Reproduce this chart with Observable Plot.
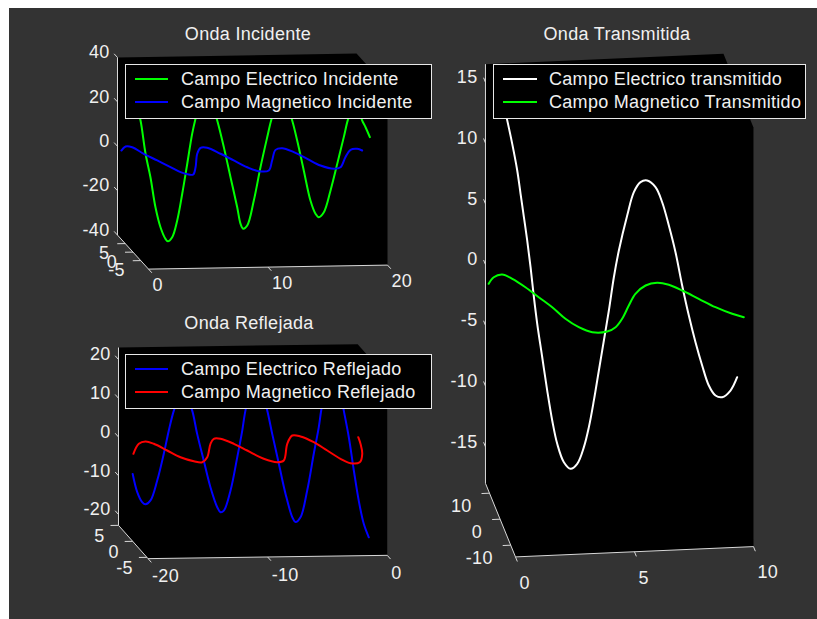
<!DOCTYPE html>
<html>
<head>
<meta charset="utf-8">
<script src="https://cdn.jsdelivr.net/npm/d3@7"></script>
<script src="https://cdn.jsdelivr.net/npm/@observablehq/plot@0.6"></script>
<style>
  html, body { margin: 0; padding: 0; background: #ffffff; }
  #figure { position: relative; width: 817px; height: 619px; overflow: hidden;
    font-family: "Liberation Sans", Arial, Helvetica, sans-serif; font-size: 18px;
    letter-spacing: 0.3px; color: #f0f0f0; }
  #backdrop { position: absolute; left: 9px; top: 8px; width: 808px; height: 611px; background: #333333; }
  .layer { position: absolute; left: 0; top: 0; }
  .title { position: absolute; white-space: nowrap; transform: translate(-50%, -50%); }
  .legend { position: absolute; background: #000000; border: 1px solid #e8e8e8; box-sizing: border-box; }
  .legend .item { position: absolute; left: 0; right: 0; height: 24px; }
  .legend .swatch { position: absolute; height: 2px; top: 11px; }
  .legend .label { position: absolute; top: 0; line-height: 24px; white-space: nowrap; }
</style>
</head>
<body>
<div id="figure"><div id="backdrop"></div></div>
<script>
// ---------- Onda Incidente ----------
const incEX = [0, 0.3, 0.63, 1.05, 1.46, 1.88, 2.30, 2.72, 2.91, 3.28, 3.70, 4.12, 4.54, 4.95, 5.23,
  5.6, 6.1, 6.6, 7.05, 7.60, 8.16, 8.72, 9.00, 9.22, 9.56, 10.11, 10.67, 11.23, 11.56, 11.95,
  12.44, 12.9, 13.32, 13.74, 14.29, 14.85, 15.27, 15.55, 15.97, 16.53, 17.09, 17.64, 17.97, 18.3,
  18.58, 18.9, 19.18, 19.46, 19.82];
const incE = [30, 26, 19.2, 4.2, -6.4, -20.0, -29.0, -34.3, -35.4, -33.6, -26.1, -14.1, -0.6, 12.8, 19.6,
  27, 30, 26.5, 18.6, 6.6, -7.0, -20.6, -28.1, -30.3, -28.9, -17.7, -2.7, 10.7, 18.2, 24.5,
  27, 24.5, 18.1, 9.0, -4.5, -18.1, -24.1, -25.7, -23.5, -13.7, -1.8, 10.2, 17.7, 22.5,
  24, 22, 17.5, 14.5, 10.0];
const incHX = [0, 0.65, 1.14, 1.60, 2.21, 2.80, 3.25, 3.76, 4.12, 4.86, 6.01, 6.73, 7.28, 7.93, 8.52,
  9.12, 9.78, 10.65, 11.68, 12.76, 13.43, 14.09, 14.70, 15.29, 16.14, 16.81, 17.97, 18.94, 19.57, 19.85];
const incH = [7.5, 9.8, 9.3, 5.4, 1.4, -2.6, -5.6, -7.0, -7.1, -2.9, 4.9, 8.3, 8.3, 4.7, 0.7,
  -3.4, -5.8, -5.5, 0.3, 6.4, 7.3, 4.9, 0.9, -3.1, -5.1, -4.3, 1.5, 5.7, 6.2, 5.2];
const incXTicks = [0, 10, 20];
const incZTicks = [-40, -20, 0, 20, 40];
const incDTicks = [-5, 0, 5];
const incLabels = ["Campo Electrico Incidente", "Campo Magnetico Incidente"];

// ---------- Onda Reflejada ----------
const refEX = [-20, -19.62, -19.21, -18.93, -18.51, -17.95, -17.40, -16.98, -16.56, -16.2, -15.8, -15.4,
  -15.03, -14.61, -14.06, -13.50, -12.93, -12.66, -12.38, -11.82, -11.26, -10.84, -10.57, -10.15,
  -9.66, -9.2, -8.75, -8.34, -7.78, -7.22, -6.66, -6.39, -5.97, -5.41, -4.86, -4.44, -4.24, -3.8,
  -3.3, -2.8, -2.35, -1.93, -1.51, -1.10, -0.68, -0.26];
const refE = [-5.4, -10.1, -12.7, -13.3, -12.3, -7.2, -0.3, 5.7, 10.8, 13.5, 14.5, 13.5,
  10.8, 4.7, -2.2, -9.1, -14.3, -15.6, -15.2, -10.0, -1.5, 5.4, 10.6, 15.5,
  17, 15.5, 10.5, 4.5, -3.3, -11.1, -17.1, -18.4, -17.2, -10.3, -0.85, 6.0, 10.3, 17.5,
  20, 17.5, 10.2, 3.3, -5.3, -13.1, -19.1, -22.6];
const refHX = [-20, -18.82, -18.10, -17.58, -16.97, -16.36, -15.55, -14.93, -14.15, -12.90, -12.26, -11.71,
  -10.97, -10.36, -9.60, -8.74, -8.07, -6.56, -5.54, -4.93, -4.25, -3.75, -3.26, -2.76, -1.92, -1.10, -0.51, -0.21];
const refH = [-0.25, 2.81, 3.50, 2.75, 0.63, -1.50, -2.79, -3.14, -1.61, 2.51, 4.04, 4.01,
  2.41, 0.28, -2.35, -3.46, -2.96, 2.18, 4.72, 4.38, 2.56, -0.06, -2.68, -4.08, -3.81, -1.23, 1.87, 3.92];
const refXTicks = [-20, -10, 0];
const refZTicks = [-20, -10, 0, 10, 20];
const refDTicks = [-5, 0, 5];
const refLabels = ["Campo Electrico Reflejado", "Campo Magnetico Reflejado"];

// ---------- Onda Transmitida ----------
const traEX = [0, 0.15, 0.30, 0.51, 0.72, 0.86, 1.00, 1.14, 1.28, 1.42, 1.56, 1.77, 1.98, 2.19, 2.40,
  2.68, 2.96, 3.24, 3.52, 3.73, 3.94, 4.15, 4.36, 4.57, 4.78, 4.99, 5.34, 5.62, 5.90, 6.18,
  6.53, 6.81, 7.09, 7.37, 7.65, 7.93, 8.21, 8.49, 8.77, 9.05, 9.33, 9.68, 9.96];
const traE = [17.2, 16.1, 14.8, 12.85, 10.64, 8.71, 6.77, 4.84, 2.63, 0.15, -2.05, -4.82, -7.58, -10.06, -12.0,
  -13.54, -14.1, -13.72, -12.37, -10.74, -8.56, -6.11, -3.66, -1.21, 1.51, 3.69, 6.54, 8.44, 9.24, 9.35,
  8.77, 7.51, 5.57, 3.35, 0.59, -1.91, -4.13, -6.07, -7.74, -8.59, -8.75, -8.23, -7.16];
const traHX = [-0.19, 0.13, 0.52, 0.87, 1.27, 1.65, 2.04, 2.39, 2.80, 3.27, 3.90, 4.32, 4.73, 5.23,
  5.70, 6.26, 6.78, 7.23, 7.69, 8.23, 8.78, 9.36, 9.78];
const traH = [6.5, 8.91, 9.79, 8.0, 4.61, 0.62, -3.38, -7.98, -11.38, -13.49, -13.47, -11.98, -8.91, -4.0,
  0.32, 3.29, 4.12, 3.17, 0.8, -2.61, -6.05, -8.82, -10.3];
const traXTicks = [0, 5, 10];
const traZTicks = [-15, -10, -5, 0, 5, 10, 15];
const traDTicks = [-10, 0, 10];
const traLabels = ["Campo Electrico transmitido", "Campo Magnetico Transmitido"];

const green = "#00ff00", blue = "#0000ff", red = "#ff0000", white = "#ffffff";
const axisColor = "#d8d8d8", textColor = "#f0f0f0";
const fontFamily = '"Liberation Sans", Arial, Helvetica, sans-serif';

// Each panel is a 3D axes seen from slightly above and to the left:
// x runs along the front, d (depth) recedes up-left, z is vertical.
const panels = [
  {
    title: "Onda Incidente", titleAt: [248, 34],
    xDomain: [0, 20], zDomain: [-40, 40], dDomain: [-10, 10],
    xTicks: incXTicks, zTicks: incZTicks, dTicks: incDTicks,
    view: { origin: [132.5, 162.8], ax: 11.95, ay: -0.2, bx: -1.55, by: -1.7, cz: -2.22 },
    xLabel: { dx: 4, dy: 16.5 }, dLabel: { dx: -16, dy: 10 },
    curves: [
      { x: incEX, z: incE, color: green },   // electric field oscillates vertically
      { x: incHX, d: incH, color: blue }     // magnetic field oscillates in depth
    ],
    legend: { left: 125, top: 64, width: 307, height: 55, swatch: [9, 33], text: 55,
      items: [[incLabels[0], green], [incLabels[1], blue]] }
  },
  {
    title: "Onda Reflejada", titleAt: [249, 323],
    xDomain: [-20, 0], zDomain: [-22.8, 23.1], dDomain: [-5.4, 5],
    xTicks: refXTicks, zTicks: refZTicks, dTicks: refDTicks,
    view: { origin: [371.4, 449.2], ax: 11.96, ay: -0.165, bx: -2.84, by: -3.2, cz: -3.875 },
    xLabel: { dx: 4, dy: 18 }, dLabel: { dx: -14, dy: 11 },
    curves: [
      { x: refEX, z: refE, color: blue },
      { x: refHX, d: refH, color: red }
    ],
    legend: { left: 125, top: 354, width: 307, height: 55, swatch: [9, 33], text: 55,
      items: [[refLabels[0], blue], [refLabels[1], red]] }
  },
  {
    title: "Onda Transmitida", titleAt: [617, 34],
    xDomain: [0, 10], zDomain: [-18, 16.5], dDomain: [-14.5, 13.8],
    xTicks: traXTicks, zTicks: traZTicks, dTicks: traDTicks,
    view: { origin: [499.6, 300], ax: 23.8, ay: -1.03, bx: -1.06, by: -2.6, cz: -12.15 },
    xLabel: { dx: 4, dy: 26 }, dLabel: { dx: -18, dy: 13 },
    curves: [
      { x: traEX, z: traE, color: white },
      { x: traHX, d: traH, color: green }
    ],
    legend: { left: 493, top: 64, width: 313, height: 55, swatch: [9, 34], text: 55,
      items: [[traLabels[0], white], [traLabels[1], green]] }
  }
];

const figure = document.getElementById("figure");

function drawPanel(p) {
  const { origin: [ox, oy], ax, ay, bx, by, cz } = p.view;
  const [x0, x1] = p.xDomain, [z0, z1] = p.zDomain, [d0, d1] = p.dDomain;
  // fold depth into the x / z scales
  const X = (q) => q.x + q.d * bx / ax;
  const Y = (q) => q.z + (ay * q.x + by * q.d) / cz;
  const pt = (x, d, z) => ({ x, d, z });
  const depthPx = Math.hypot(bx, by);
  const tickD = 5 / depthPx;
  const tickX = 8 / ax;

  // silhouette of the back walls and floor
  const box = [pt(x0, d1, z1), pt(x1, d1, z1), pt(x1, d0, z1), pt(x1, d0, z0), pt(x0, d0, z0), pt(x0, d1, z0)];
  const edges = [
    [pt(x0, d1, z0), pt(x0, d1, z1)],
    [pt(x0, d1, z0), pt(x0, d0, z0)],
    [pt(x0, d0, z0), pt(x1, d0, z0)]
  ];
  const ticks = [
    ...p.xTicks.map(t => [pt(t, d0, z0), pt(t, d0 - tickD, z0)]),
    ...p.zTicks.map(t => [pt(x0, d1, t), pt(x0, d1 + tickD, t)]),
    ...p.dTicks.map(t => [pt(x0, t, z0), pt(x0 - tickX, t, z0)])
  ];
  const segs = (data) => Plot.link(data, {
    x1: s => X(s[0]), y1: s => Y(s[0]), x2: s => X(s[1]), y2: s => Y(s[1]),
    stroke: axisColor, strokeWidth: 1
  });

  const xLab = p.xTicks.map(t => ({ ...pt(t, d0, z0), t }));
  const zLab = p.zTicks.map(t => ({ ...pt(x0, d1, t), t }));
  const dLab = p.dTicks.map(t => ({ ...pt(x0, t, z0), t }));

  const curveMarks = p.curves.map(c => Plot.line(
    c.x.map((x, i) => pt(x, c.d ? c.d[i] : 0, c.z ? c.z[i] : 0)),
    { x: X, y: Y, stroke: c.color, strokeWidth: 2, curve: "catmull-rom", strokeLinejoin: "round" }
  ));

  const svg = Plot.plot({
    width: 817, height: 619, margin: 0,
    x: { type: "linear", domain: [x0, x1], range: [ox + ax * x0, ox + ax * x1], axis: null },
    y: { type: "linear", domain: [z0, z1], range: [oy + cz * z0, oy + cz * z1], axis: null },
    style: { background: "transparent", fontFamily, fontSize: "18px", letterSpacing: "0.3px", overflow: "visible" },
    marks: [
      Plot.line(box, { x: X, y: Y, fill: "#000000", stroke: "none" }),
      segs(edges),
      segs(ticks),
      Plot.text(xLab, { x: X, y: Y, text: q => String(q.t), textAnchor: "start", dx: p.xLabel.dx, dy: p.xLabel.dy, fill: textColor }),
      Plot.text(zLab, { x: X, y: Y, text: q => String(q.t), textAnchor: "end", dx: -8, dy: -5, fill: textColor }),
      Plot.text(dLab, { x: X, y: Y, text: q => String(q.t), textAnchor: "end", dx: p.dLabel.dx, dy: p.dLabel.dy, fill: textColor }),
      ...curveMarks
    ]
  });
  svg.classList.add("layer");
  figure.appendChild(svg);

  const title = document.createElement("div");
  title.className = "title";
  title.textContent = p.title;
  title.style.left = p.titleAt[0] + "px";
  title.style.top = p.titleAt[1] + "px";
  figure.appendChild(title);

  const L = p.legend;
  const box2 = document.createElement("div");
  box2.className = "legend";
  Object.assign(box2.style, { left: L.left + "px", top: L.top + "px", width: L.width + "px", height: L.height + "px" });
  L.items.forEach(([label, color], i) => {
    const item = document.createElement("div");
    item.className = "item";
    item.style.top = (2 + i * 23) + "px";
    const sw = document.createElement("div");
    sw.className = "swatch";
    Object.assign(sw.style, { left: L.swatch[0] + "px", width: L.swatch[1] + "px", background: color });
    const tx = document.createElement("div");
    tx.className = "label";
    tx.style.left = L.text + "px";
    tx.textContent = label;
    item.appendChild(sw);
    item.appendChild(tx);
    box2.appendChild(item);
  });
  figure.appendChild(box2);
}

panels.forEach(drawPanel);
</script>
</body>
</html>
